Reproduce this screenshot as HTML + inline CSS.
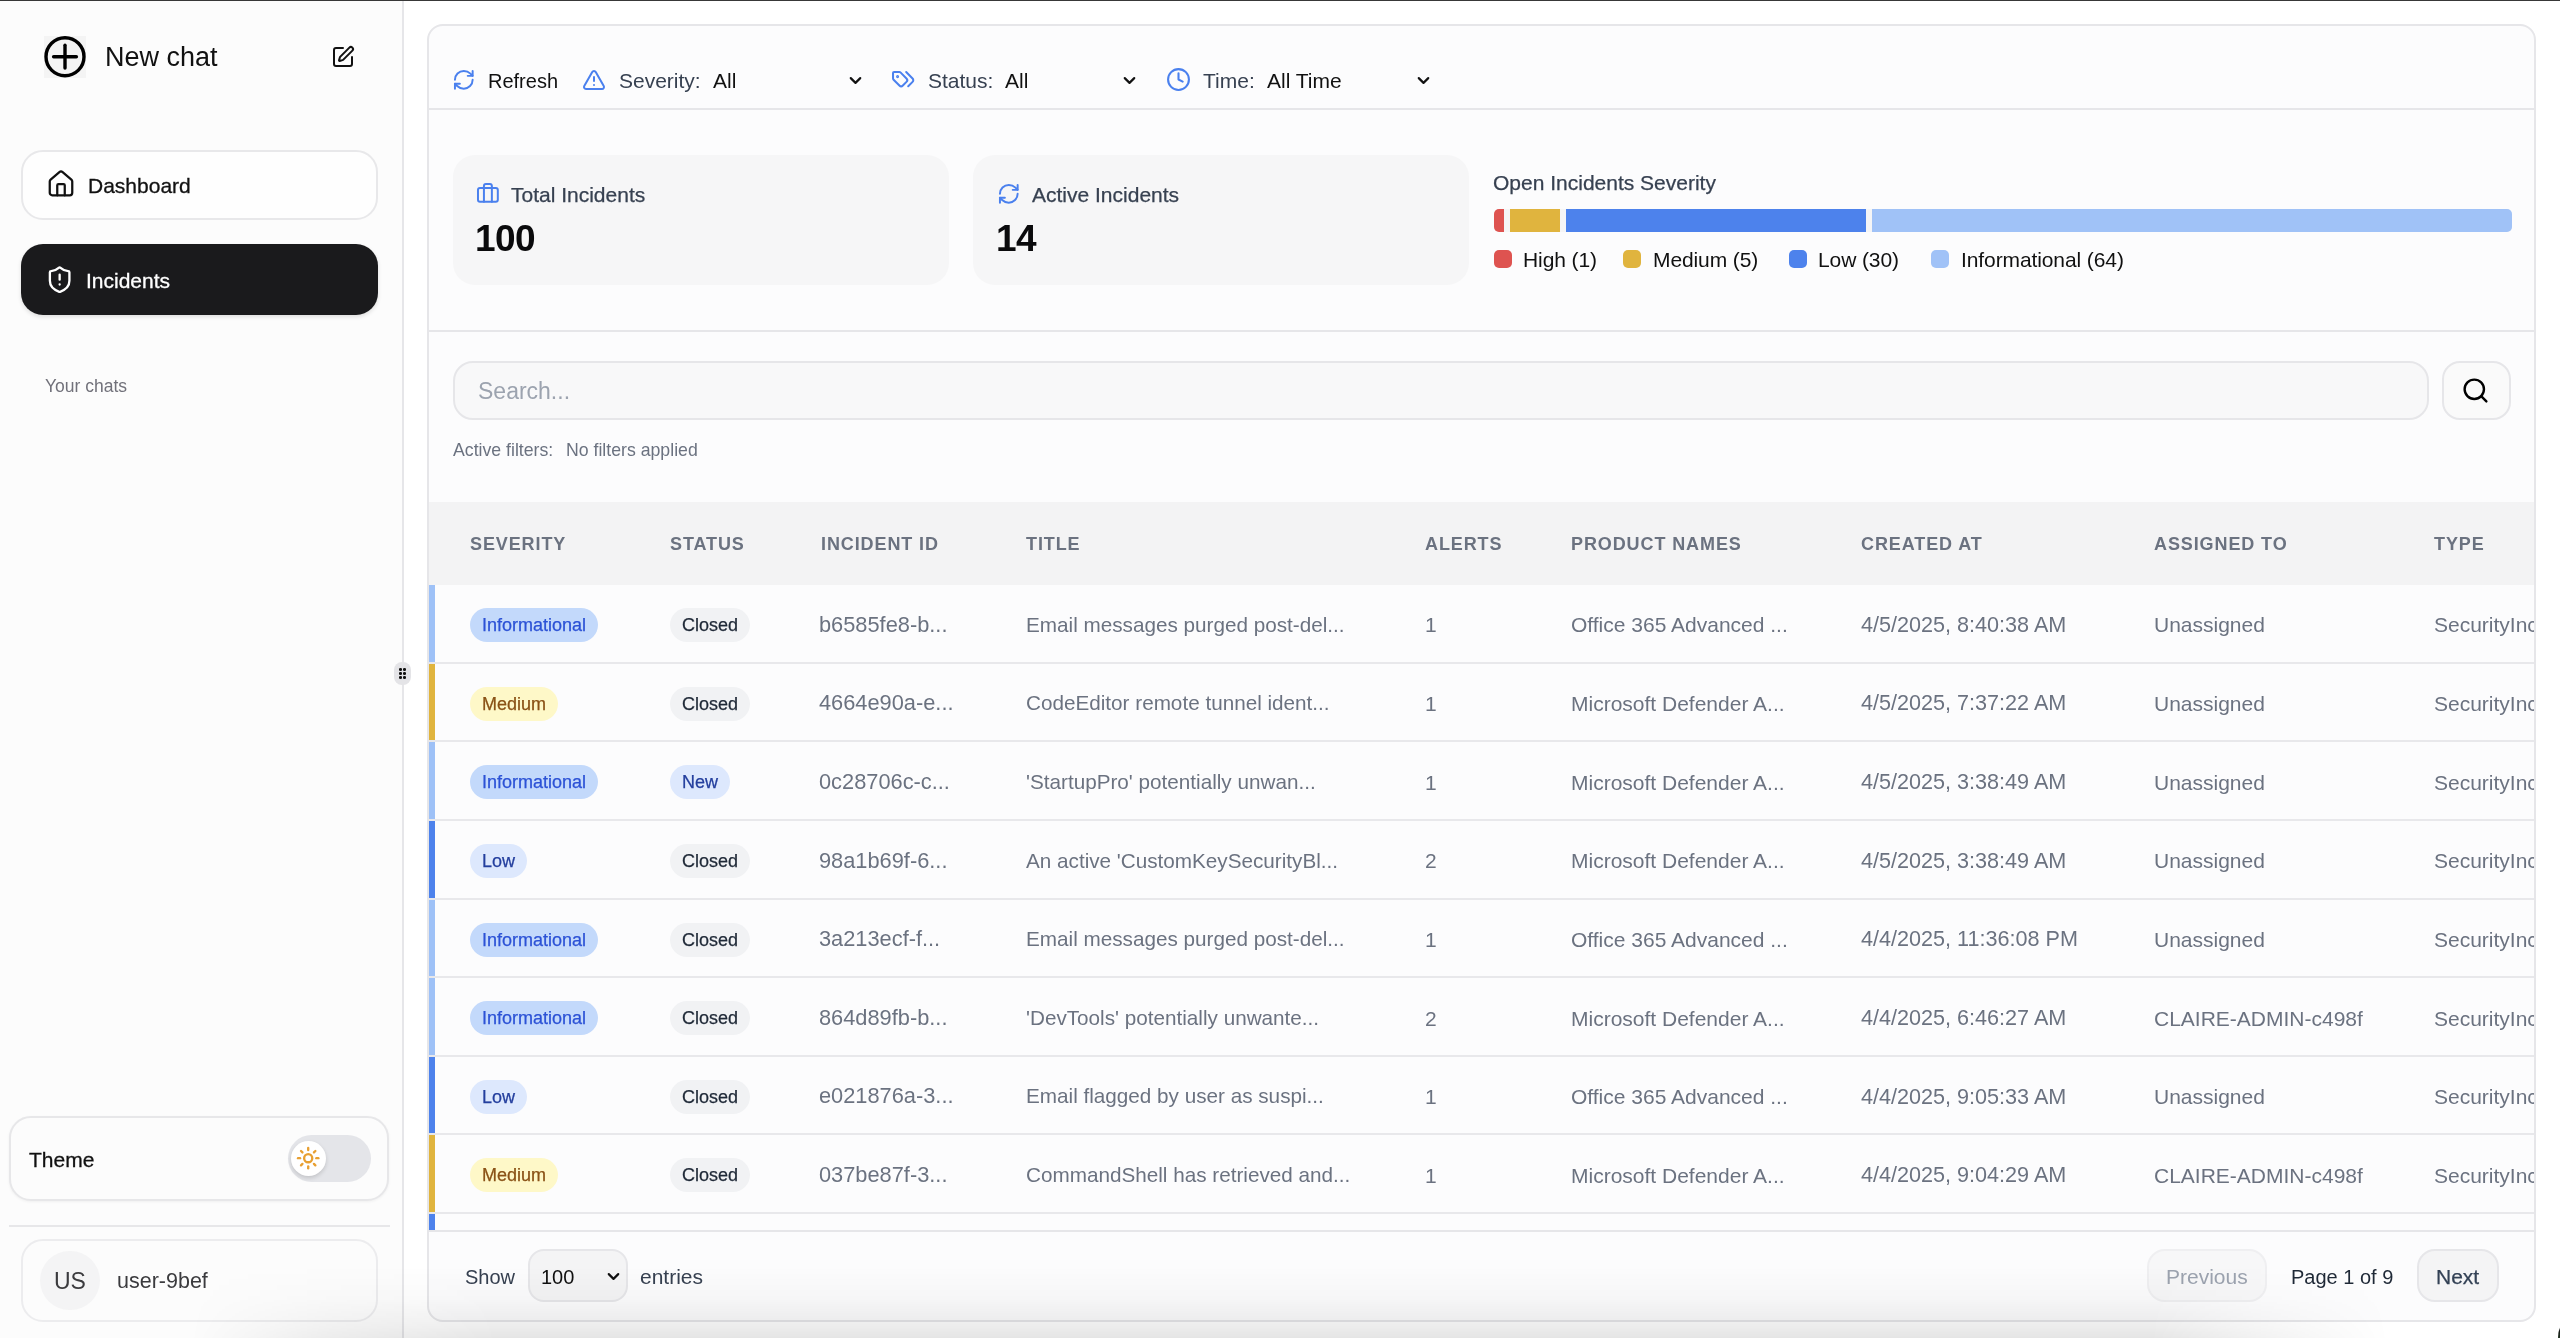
<!DOCTYPE html>
<html><head><meta charset="utf-8"><title>Incidents</title>
<style>
html,body{margin:0;padding:0;}
body{width:2560px;height:1338px;overflow:hidden;position:relative;background:#fff;font-family:"Liberation Sans", Arial, sans-serif;}
.t{position:absolute;white-space:nowrap;will-change:transform;}
.b{position:absolute;}
.ic{position:absolute;overflow:visible;}
.clip{position:absolute;overflow:hidden;}
.bd{position:absolute;will-change:transform;box-sizing:border-box;padding:0 12px;border-radius:17px;font-size:18px;line-height:34px;white-space:nowrap;-webkit-text-stroke:0.25px currentColor;}
</style></head><body>
<div class="b" style="left:0px;top:0px;width:402px;height:1338px;background:#fcfcfc"></div><div class="b" style="left:402px;top:0px;width:2px;height:1338px;background:#e6e6e9"></div><div class="b" style="left:44px;top:36px;width:42px;height:42px;background:#f4f4f4"></div><svg class="ic" style="left:44.25px;top:36.4px;width:42px;height:42px" viewBox="0 0 42 42" fill="none" stroke="#000" stroke-width="3.4" stroke-linecap="round"><circle cx="21" cy="20.7" r="19"/><path d="M9.6 20.7h22.8"/><path d="M21 9.3v22.8"/></svg><div class="t" style="left:105.0px;top:44.0px;font-size:27px;line-height:27px;color:#111;font-weight:400;">New chat</div><svg class="ic" style="left:330.9px;top:45.1px;width:24px;height:24px;color:#111" viewBox="0 0 24 24" fill="none" stroke="currentColor" stroke-width="2" stroke-linecap="round" stroke-linejoin="round"><path d="M12 3H5a2 2 0 0 0-2 2v14a2 2 0 0 0 2 2h14a2 2 0 0 0 2-2v-7"/><path d="M18.375 2.625a1 1 0 0 1 3 3l-9.013 9.014a2 2 0 0 1-.853.505l-2.873.84a.5.5 0 0 1-.62-.62l.84-2.873a2 2 0 0 1 .506-.852z"/></svg><div class="b" style="left:21px;top:149.5px;width:357px;height:70px;background:#fefefe;border:2px solid #e8e8ea;border-radius:22px;box-sizing:border-box"></div><svg class="ic" style="left:45.8px;top:169.4px;width:30px;height:30px;color:#111" viewBox="0 0 24 24" fill="none" stroke="currentColor" stroke-width="1.8" stroke-linecap="round" stroke-linejoin="round"><path d="M15 21v-8a1 1 0 0 0-1-1h-4a1 1 0 0 0-1 1v8"/><path d="M3 10a2 2 0 0 1 .709-1.528l7-5.999a2 2 0 0 1 2.582 0l7 5.999A2 2 0 0 1 21 10v9a2 2 0 0 1-2 2H5a2 2 0 0 1-2-2z"/></svg><div class="t" style="left:88.0px;top:175.2px;font-size:21px;line-height:21px;color:#111;font-weight:400;-webkit-text-stroke:0.3px #111">Dashboard</div><div class="b" style="left:21px;top:244px;width:357px;height:70.5px;background:#1a1a1c;border-radius:22px;box-shadow:0 2px 4px rgba(0,0,0,0.12)"></div><svg class="ic" style="left:44.8px;top:265.0px;width:29.3px;height:29.3px;color:#fff" viewBox="0 0 24 24" fill="none" stroke="currentColor" stroke-width="1.9" stroke-linecap="round" stroke-linejoin="round"><path d="M20 13c0 5-3.5 7.5-7.66 8.95a1 1 0 0 1-.67-.01C7.5 20.5 4 18 4 13V6a1 1 0 0 1 1-1c2 0 4.5-1.2 6.24-2.72a1.17 1.17 0 0 1 1.52 0C14.51 3.81 17 5 19 5a1 1 0 0 1 1 1z"/><path d="M12 8v4"/><path d="M12 16h.01"/></svg><div class="t" style="left:86.0px;top:270.0px;font-size:21px;line-height:21px;color:#fff;font-weight:400;-webkit-text-stroke:0.3px #fff">Incidents</div><div class="t" style="left:45.0px;top:378.2px;font-size:17.5px;line-height:17.5px;color:#71717a;font-weight:400;">Your chats</div><div class="b" style="left:9px;top:1116px;width:380px;height:85px;background:#fcfcfc;border:2px solid #e7e7e9;border-radius:22px;box-sizing:border-box;box-shadow:0 1px 3px rgba(0,0,0,0.05)"></div><div class="t" style="left:28.5px;top:1149.4px;font-size:21px;line-height:21px;color:#111;font-weight:400;-webkit-text-stroke:0.3px #111">Theme</div><div class="b" style="left:288px;top:1135px;width:83px;height:47px;background:#e4e5e9;border-radius:24px"></div><div class="b" style="left:291px;top:1141px;width:35px;height:35px;background:#fff;border-radius:50%;box-shadow:0 2px 4px rgba(0,0,0,0.15)"></div><svg class="ic" style="left:296.2px;top:1146.3px;width:24.4px;height:24.4px;color:#e8a032" viewBox="0 0 24 24" fill="none" stroke="currentColor" stroke-width="2.3" stroke-linecap="round" stroke-linejoin="round"><circle cx="12" cy="12" r="4"/><path d="M12 2v2"/><path d="M12 20v2"/><path d="m4.93 4.93 1.41 1.41"/><path d="m17.66 17.66 1.41 1.41"/><path d="M2 12h2"/><path d="M20 12h2"/><path d="m6.34 17.66-1.41 1.41"/><path d="m19.07 4.93-1.41 1.41"/></svg><div class="b" style="left:9px;top:1225px;width:381px;height:2px;background:#e7e7e9"></div><div class="b" style="left:21px;top:1239px;width:357px;height:83px;background:#fcfcfc;border:2px solid #ececee;border-radius:22px;box-sizing:border-box"></div><div class="b" style="left:40px;top:1250.5px;width:59.5px;height:59.5px;background:#f4f4f5;border-radius:50%"></div><div class="t" style="left:54.0px;top:1270.1px;font-size:23px;line-height:23px;color:#3b3b3e;font-weight:400;">US</div><div class="t" style="left:117.0px;top:1270.6px;font-size:21.5px;line-height:21.5px;color:#3b3b3e;font-weight:400;">user-9bef</div><div class="b" style="left:394px;top:662px;width:17px;height:23px;background:#e4e4e7;border-radius:8px"></div><div class="b" style="left:399.3px;top:668.1px;width:2.6px;height:2.6px;background:#111;border-radius:50%"></div><div class="b" style="left:403.3px;top:668.1px;width:2.6px;height:2.6px;background:#111;border-radius:50%"></div><div class="b" style="left:399.3px;top:672.1px;width:2.6px;height:2.6px;background:#111;border-radius:50%"></div><div class="b" style="left:403.3px;top:672.1px;width:2.6px;height:2.6px;background:#111;border-radius:50%"></div><div class="b" style="left:399.3px;top:676.1px;width:2.6px;height:2.6px;background:#111;border-radius:50%"></div><div class="b" style="left:403.3px;top:676.1px;width:2.6px;height:2.6px;background:#111;border-radius:50%"></div><div class="b" style="left:427px;top:24px;width:2109px;height:1298px;background:#fcfcfd;border:2px solid #e6e6e9;border-radius:16px;box-sizing:border-box"></div><div class="b" style="left:429px;top:108px;width:2105px;height:2px;background:#e6e6e9"></div><svg class="ic" style="left:452.2px;top:67.6px;width:23.6px;height:23.6px;color:#4a80ee" viewBox="0 0 24 24" fill="none" stroke="currentColor" stroke-width="2" stroke-linecap="round" stroke-linejoin="round"><path d="M3 12a9 9 0 0 1 9-9 9.75 9.75 0 0 1 6.74 2.74L21 8"/><path d="M21 3v5h-5"/><path d="M21 12a9 9 0 0 1-9 9 9.75 9.75 0 0 1-6.74-2.74L3 16"/><path d="M8 16H3v5"/></svg><div class="t" style="left:488.0px;top:71.0px;font-size:20px;line-height:20px;color:#111;font-weight:400;">Refresh</div><svg class="ic" style="left:582.0px;top:67.5px;width:24px;height:24px;color:#4a80ee" viewBox="0 0 24 24" fill="none" stroke="currentColor" stroke-width="2" stroke-linecap="round" stroke-linejoin="round"><path d="m21.73 18-8-14a2 2 0 0 0-3.48 0l-8 14A2 2 0 0 0 4 21h16a2 2 0 0 0 1.73-3"/><path d="M12 9v4"/><path d="M12 17h.01"/></svg><div class="t" style="left:619.0px;top:70.1px;font-size:21px;line-height:21px;color:#374151;font-weight:400;">Severity:</div><div class="t" style="left:713.0px;top:70.1px;font-size:21px;line-height:21px;color:#111;font-weight:400;">All</div><svg class="ic" style="left:845.5px;top:71.0px;width:19px;height:19px;color:#111" viewBox="0 0 24 24" fill="none" stroke="currentColor" stroke-width="2.7" stroke-linecap="round" stroke-linejoin="round"><path d="m6 9 6 6 6-6"/></svg><svg class="ic" style="left:891.3px;top:67.3px;width:24.3px;height:24.3px;color:#4a80ee" viewBox="0 0 24 24" fill="none" stroke="currentColor" stroke-width="2" stroke-linecap="round" stroke-linejoin="round"><path d="m15 5 6.3 6.3a2.4 2.4 0 0 1 0 3.4L17 19"/><path d="M9.586 5.586A2 2 0 0 0 8.172 5H3a1 1 0 0 0-1 1v5.172a2 2 0 0 0 .586 1.414L8.29 18.29a2.426 2.426 0 0 0 3.42 0l3.58-3.58a2.426 2.426 0 0 0 0-3.42z"/><circle cx="6.5" cy="9.5" r=".5" fill="currentColor"/></svg><div class="t" style="left:928.0px;top:70.1px;font-size:21px;line-height:21px;color:#374151;font-weight:400;">Status:</div><div class="t" style="left:1005.0px;top:70.1px;font-size:21px;line-height:21px;color:#111;font-weight:400;">All</div><svg class="ic" style="left:1120.0px;top:71.0px;width:19px;height:19px;color:#111" viewBox="0 0 24 24" fill="none" stroke="currentColor" stroke-width="2.7" stroke-linecap="round" stroke-linejoin="round"><path d="m6 9 6 6 6-6"/></svg><svg class="ic" style="left:1166.0px;top:66.5px;width:25px;height:25px;color:#4a80ee" viewBox="0 0 24 24" fill="none" stroke="currentColor" stroke-width="2" stroke-linecap="round" stroke-linejoin="round"><circle cx="12" cy="12" r="10"/><polyline points="12 6 12 12 16 14"/></svg><div class="t" style="left:1202.5px;top:70.1px;font-size:21px;line-height:21px;color:#374151;font-weight:400;">Time:</div><div class="t" style="left:1267.0px;top:70.1px;font-size:21px;line-height:21px;color:#111;font-weight:400;">All Time</div><svg class="ic" style="left:1414.0px;top:71.0px;width:19px;height:19px;color:#111" viewBox="0 0 24 24" fill="none" stroke="currentColor" stroke-width="2.7" stroke-linecap="round" stroke-linejoin="round"><path d="m6 9 6 6 6-6"/></svg><div class="b" style="left:453px;top:155px;width:496px;height:130px;background:#f6f6f7;border-radius:22px"></div><svg class="ic" style="left:476.1px;top:181.5px;width:23.8px;height:23.8px;color:#4a80ee" viewBox="0 0 24 24" fill="none" stroke="currentColor" stroke-width="2" stroke-linecap="round" stroke-linejoin="round"><path d="M16 20V4a2 2 0 0 0-2-2h-4a2 2 0 0 0-2 2v16"/><rect width="20" height="14" x="2" y="6" rx="2"/></svg><div class="t" style="left:511.0px;top:183.7px;font-size:21px;line-height:21px;color:#374151;font-weight:400;-webkit-text-stroke:0.25px currentColor">Total Incidents</div><div class="t" style="left:475.2px;top:220.0px;font-size:37px;line-height:37px;color:#0a0a0c;font-weight:700;letter-spacing:-0.6px">100</div><div class="b" style="left:973px;top:155px;width:496px;height:130px;background:#f6f6f7;border-radius:22px"></div><svg class="ic" style="left:996.6px;top:181.6px;width:23.6px;height:23.6px;color:#4a80ee" viewBox="0 0 24 24" fill="none" stroke="currentColor" stroke-width="2" stroke-linecap="round" stroke-linejoin="round"><path d="M3 12a9 9 0 0 1 9-9 9.75 9.75 0 0 1 6.74 2.74L21 8"/><path d="M21 3v5h-5"/><path d="M21 12a9 9 0 0 1-9 9 9.75 9.75 0 0 1-6.74-2.74L3 16"/><path d="M8 16H3v5"/></svg><div class="t" style="left:1032.0px;top:183.7px;font-size:21px;line-height:21px;color:#374151;font-weight:400;-webkit-text-stroke:0.25px currentColor">Active Incidents</div><div class="t" style="left:995.6px;top:220.0px;font-size:37px;line-height:37px;color:#0a0a0c;font-weight:700;letter-spacing:-0.6px">14</div><div class="t" style="left:1493.0px;top:171.6px;font-size:21px;line-height:21px;color:#374151;font-weight:400;-webkit-text-stroke:0.25px currentColor">Open Incidents Severity</div><div class="b" style="left:1493.5px;top:208.5px;width:1018px;height:23.5px;background:#f5f5f6;border-radius:5px"></div><div class="b" style="left:1493.5px;top:208.5px;width:10px;height:23.5px;background:#de5350;border-radius:5px 0 0 5px"></div><div class="b" style="left:1509.5px;top:208.5px;width:50px;height:23.5px;background:#e0b43e"></div><div class="b" style="left:1565.5px;top:208.5px;width:300px;height:23.5px;background:#4d82ec"></div><div class="b" style="left:1871.5px;top:208.5px;width:640px;height:23.5px;background:#a0c2f7;border-radius:0 5px 5px 0"></div><div class="b" style="left:1493.5px;top:250px;width:18px;height:18px;background:#de5350;border-radius:5px"></div><div class="t" style="left:1523.0px;top:248.8px;font-size:21px;line-height:21px;color:#111;font-weight:400;letter-spacing:-0.1px">High (1)</div><div class="b" style="left:1622.5px;top:250px;width:18px;height:18px;background:#e0b43e;border-radius:5px"></div><div class="t" style="left:1652.5px;top:248.8px;font-size:21px;line-height:21px;color:#111;font-weight:400;letter-spacing:-0.1px">Medium (5)</div><div class="b" style="left:1788.5px;top:250px;width:18px;height:18px;background:#4d82ec;border-radius:5px"></div><div class="t" style="left:1818.0px;top:248.8px;font-size:21px;line-height:21px;color:#111;font-weight:400;letter-spacing:-0.1px">Low (30)</div><div class="b" style="left:1930.5px;top:250px;width:18px;height:18px;background:#a0c2f7;border-radius:5px"></div><div class="t" style="left:1960.5px;top:248.8px;font-size:21px;line-height:21px;color:#111;font-weight:400;letter-spacing:-0.1px">Informational (64)</div><div class="b" style="left:429px;top:330px;width:2105px;height:2px;background:#e6e6e9"></div><div class="b" style="left:453px;top:361px;width:1976px;height:59px;background:#f8f8f9;border:2px solid #e6e6e9;border-radius:20px;box-sizing:border-box"></div><div class="t" style="left:478.0px;top:379.6px;font-size:23px;line-height:23px;color:#9ca3af;font-weight:400;">Search...</div><div class="b" style="left:2442px;top:361px;width:68.5px;height:59px;background:#fafafa;border:2px solid #e6e6e9;border-radius:18px;box-sizing:border-box"></div><svg class="ic" style="left:2460.5px;top:376.0px;width:29px;height:29px;color:#000" viewBox="0 0 24 24" fill="none" stroke="currentColor" stroke-width="2" stroke-linecap="round" stroke-linejoin="round"><circle cx="11" cy="11" r="8"/><path d="m21 21-4.3-4.3"/></svg><div class="t" style="left:452.5px;top:441.8px;font-size:17.7px;line-height:17.7px;color:#6b7280;font-weight:400;">Active filters:</div><div class="t" style="left:565.5px;top:441.8px;font-size:17.7px;line-height:17.7px;color:#6b7280;font-weight:400;">No filters applied</div><div class="b" style="left:429px;top:502px;width:2105px;height:83px;background:#f3f3f4"></div><div class="t" style="left:470.0px;top:535.4px;font-size:18px;line-height:18px;color:#6b7280;font-weight:700;letter-spacing:0.9px">SEVERITY</div><div class="t" style="left:669.5px;top:535.4px;font-size:18px;line-height:18px;color:#6b7280;font-weight:700;letter-spacing:0.9px">STATUS</div><div class="t" style="left:820.5px;top:535.4px;font-size:18px;line-height:18px;color:#6b7280;font-weight:700;letter-spacing:0.9px">INCIDENT ID</div><div class="t" style="left:1026.0px;top:535.4px;font-size:18px;line-height:18px;color:#6b7280;font-weight:700;letter-spacing:0.9px">TITLE</div><div class="t" style="left:1425.0px;top:535.4px;font-size:18px;line-height:18px;color:#6b7280;font-weight:700;letter-spacing:0.9px">ALERTS</div><div class="t" style="left:1571.0px;top:535.4px;font-size:18px;line-height:18px;color:#6b7280;font-weight:700;letter-spacing:0.9px">PRODUCT NAMES</div><div class="t" style="left:1861.0px;top:535.4px;font-size:18px;line-height:18px;color:#6b7280;font-weight:700;letter-spacing:0.9px">CREATED AT</div><div class="t" style="left:2154.0px;top:535.4px;font-size:18px;line-height:18px;color:#6b7280;font-weight:700;letter-spacing:0.9px">ASSIGNED TO</div><div class="t" style="left:2434.0px;top:535.4px;font-size:18px;line-height:18px;color:#6b7280;font-weight:700;letter-spacing:0.9px">TYPE</div><div class="clip" style="left:0;top:0;width:2534px;height:1229.5px"><div class="b" style="left:429px;top:585.0px;width:6px;height:76.63px;background:#9ec1f7"></div><div class="b" style="left:429px;top:661.63px;width:2105px;height:2px;background:#e8e8eb"></div><div class="bd" style="left:470px;top:608.00px;height:34px;background:#c3d9fb;color:#2c52d6">Informational</div><div class="bd" style="left:669.5px;top:608.00px;height:34px;background:#f1f2f4;color:#1f2937">Closed</div><div class="t" style="left:819.0px;top:613.6px;font-size:21.8px;line-height:21.8px;color:#6b7280;font-weight:400;">b6585fe8-b...</div><div class="t" style="left:1026.0px;top:614.6px;font-size:20.7px;line-height:20.7px;color:#6b7280;font-weight:400;">Email messages purged post-del...</div><div class="t" style="left:1425.0px;top:614.3px;font-size:21px;line-height:21px;color:#6b7280;font-weight:400;">1</div><div class="t" style="left:1571.0px;top:614.3px;font-size:21px;line-height:21px;color:#6b7280;font-weight:400;">Office 365 Advanced ...</div><div class="t" style="left:1861.0px;top:613.8px;font-size:21.6px;line-height:21.6px;color:#6b7280;font-weight:400;">4/5/2025, 8:40:38 AM</div><div class="t" style="left:2154.0px;top:614.3px;font-size:21px;line-height:21px;color:#6b7280;font-weight:400;">Unassigned</div><div class="t" style="left:2434.0px;top:614.3px;font-size:21px;line-height:21px;color:#6b7280;font-weight:400;">SecurityIncident</div><div class="b" style="left:429px;top:663.63px;width:6px;height:76.63px;background:#e0b43e"></div><div class="b" style="left:429px;top:740.26px;width:2105px;height:2px;background:#e8e8eb"></div><div class="bd" style="left:470px;top:686.63px;height:34px;background:#fef8c8;color:#8a5216">Medium</div><div class="bd" style="left:669.5px;top:686.63px;height:34px;background:#f1f2f4;color:#1f2937">Closed</div><div class="t" style="left:819.0px;top:692.3px;font-size:21.8px;line-height:21.8px;color:#6b7280;font-weight:400;">4664e90a-e...</div><div class="t" style="left:1026.0px;top:693.2px;font-size:20.7px;line-height:20.7px;color:#6b7280;font-weight:400;">CodeEditor remote tunnel ident...</div><div class="t" style="left:1425.0px;top:693.0px;font-size:21px;line-height:21px;color:#6b7280;font-weight:400;">1</div><div class="t" style="left:1571.0px;top:693.0px;font-size:21px;line-height:21px;color:#6b7280;font-weight:400;">Microsoft Defender A...</div><div class="t" style="left:1861.0px;top:692.4px;font-size:21.6px;line-height:21.6px;color:#6b7280;font-weight:400;">4/5/2025, 7:37:22 AM</div><div class="t" style="left:2154.0px;top:693.0px;font-size:21px;line-height:21px;color:#6b7280;font-weight:400;">Unassigned</div><div class="t" style="left:2434.0px;top:693.0px;font-size:21px;line-height:21px;color:#6b7280;font-weight:400;">SecurityIncident</div><div class="b" style="left:429px;top:742.26px;width:6px;height:76.63px;background:#9ec1f7"></div><div class="b" style="left:429px;top:818.89px;width:2105px;height:2px;background:#e8e8eb"></div><div class="bd" style="left:470px;top:765.26px;height:34px;background:#c3d9fb;color:#2c52d6">Informational</div><div class="bd" style="left:669.5px;top:765.26px;height:34px;background:#dde8fd;color:#243f9e">New</div><div class="t" style="left:819.0px;top:770.9px;font-size:21.8px;line-height:21.8px;color:#6b7280;font-weight:400;">0c28706c-c...</div><div class="t" style="left:1026.0px;top:771.8px;font-size:20.7px;line-height:20.7px;color:#6b7280;font-weight:400;">'StartupPro' potentially unwan...</div><div class="t" style="left:1425.0px;top:771.6px;font-size:21px;line-height:21px;color:#6b7280;font-weight:400;">1</div><div class="t" style="left:1571.0px;top:771.6px;font-size:21px;line-height:21px;color:#6b7280;font-weight:400;">Microsoft Defender A...</div><div class="t" style="left:1861.0px;top:771.1px;font-size:21.6px;line-height:21.6px;color:#6b7280;font-weight:400;">4/5/2025, 3:38:49 AM</div><div class="t" style="left:2154.0px;top:771.6px;font-size:21px;line-height:21px;color:#6b7280;font-weight:400;">Unassigned</div><div class="t" style="left:2434.0px;top:771.6px;font-size:21px;line-height:21px;color:#6b7280;font-weight:400;">SecurityIncident</div><div class="b" style="left:429px;top:820.89px;width:6px;height:76.63px;background:#4d82ec"></div><div class="b" style="left:429px;top:897.52px;width:2105px;height:2px;background:#e8e8eb"></div><div class="bd" style="left:470px;top:843.89px;height:34px;background:#dde8fd;color:#243f9e">Low</div><div class="bd" style="left:669.5px;top:843.89px;height:34px;background:#f1f2f4;color:#1f2937">Closed</div><div class="t" style="left:819.0px;top:849.5px;font-size:21.8px;line-height:21.8px;color:#6b7280;font-weight:400;">98a1b69f-6...</div><div class="t" style="left:1026.0px;top:850.5px;font-size:20.7px;line-height:20.7px;color:#6b7280;font-weight:400;">An active 'CustomKeySecurityBl...</div><div class="t" style="left:1425.0px;top:850.2px;font-size:21px;line-height:21px;color:#6b7280;font-weight:400;">2</div><div class="t" style="left:1571.0px;top:850.2px;font-size:21px;line-height:21px;color:#6b7280;font-weight:400;">Microsoft Defender A...</div><div class="t" style="left:1861.0px;top:849.7px;font-size:21.6px;line-height:21.6px;color:#6b7280;font-weight:400;">4/5/2025, 3:38:49 AM</div><div class="t" style="left:2154.0px;top:850.2px;font-size:21px;line-height:21px;color:#6b7280;font-weight:400;">Unassigned</div><div class="t" style="left:2434.0px;top:850.2px;font-size:21px;line-height:21px;color:#6b7280;font-weight:400;">SecurityIncident</div><div class="b" style="left:429px;top:899.52px;width:6px;height:76.63px;background:#9ec1f7"></div><div class="b" style="left:429px;top:976.15px;width:2105px;height:2px;background:#e8e8eb"></div><div class="bd" style="left:470px;top:922.52px;height:34px;background:#c3d9fb;color:#2c52d6">Informational</div><div class="bd" style="left:669.5px;top:922.52px;height:34px;background:#f1f2f4;color:#1f2937">Closed</div><div class="t" style="left:819.0px;top:928.2px;font-size:21.8px;line-height:21.8px;color:#6b7280;font-weight:400;">3a213ecf-f...</div><div class="t" style="left:1026.0px;top:929.1px;font-size:20.7px;line-height:20.7px;color:#6b7280;font-weight:400;">Email messages purged post-del...</div><div class="t" style="left:1425.0px;top:928.8px;font-size:21px;line-height:21px;color:#6b7280;font-weight:400;">1</div><div class="t" style="left:1571.0px;top:928.8px;font-size:21px;line-height:21px;color:#6b7280;font-weight:400;">Office 365 Advanced ...</div><div class="t" style="left:1861.0px;top:928.3px;font-size:21.6px;line-height:21.6px;color:#6b7280;font-weight:400;">4/4/2025, 11:36:08 PM</div><div class="t" style="left:2154.0px;top:928.8px;font-size:21px;line-height:21px;color:#6b7280;font-weight:400;">Unassigned</div><div class="t" style="left:2434.0px;top:928.8px;font-size:21px;line-height:21px;color:#6b7280;font-weight:400;">SecurityIncident</div><div class="b" style="left:429px;top:978.15px;width:6px;height:76.63px;background:#9ec1f7"></div><div class="b" style="left:429px;top:1054.78px;width:2105px;height:2px;background:#e8e8eb"></div><div class="bd" style="left:470px;top:1001.15px;height:34px;background:#c3d9fb;color:#2c52d6">Informational</div><div class="bd" style="left:669.5px;top:1001.15px;height:34px;background:#f1f2f4;color:#1f2937">Closed</div><div class="t" style="left:819.0px;top:1006.8px;font-size:21.8px;line-height:21.8px;color:#6b7280;font-weight:400;">864d89fb-b...</div><div class="t" style="left:1026.0px;top:1007.7px;font-size:20.7px;line-height:20.7px;color:#6b7280;font-weight:400;">'DevTools' potentially unwante...</div><div class="t" style="left:1425.0px;top:1007.5px;font-size:21px;line-height:21px;color:#6b7280;font-weight:400;">2</div><div class="t" style="left:1571.0px;top:1007.5px;font-size:21px;line-height:21px;color:#6b7280;font-weight:400;">Microsoft Defender A...</div><div class="t" style="left:1861.0px;top:1007.0px;font-size:21.6px;line-height:21.6px;color:#6b7280;font-weight:400;">4/4/2025, 6:46:27 AM</div><div class="t" style="left:2154.0px;top:1007.5px;font-size:21px;line-height:21px;color:#6b7280;font-weight:400;">CLAIRE-ADMIN-c498f</div><div class="t" style="left:2434.0px;top:1007.5px;font-size:21px;line-height:21px;color:#6b7280;font-weight:400;">SecurityIncident</div><div class="b" style="left:429px;top:1056.78px;width:6px;height:76.63px;background:#4d82ec"></div><div class="b" style="left:429px;top:1133.41px;width:2105px;height:2px;background:#e8e8eb"></div><div class="bd" style="left:470px;top:1079.78px;height:34px;background:#dde8fd;color:#243f9e">Low</div><div class="bd" style="left:669.5px;top:1079.78px;height:34px;background:#f1f2f4;color:#1f2937">Closed</div><div class="t" style="left:819.0px;top:1085.4px;font-size:21.8px;line-height:21.8px;color:#6b7280;font-weight:400;">e021876a-3...</div><div class="t" style="left:1026.0px;top:1086.4px;font-size:20.7px;line-height:20.7px;color:#6b7280;font-weight:400;">Email flagged by user as suspi...</div><div class="t" style="left:1425.0px;top:1086.1px;font-size:21px;line-height:21px;color:#6b7280;font-weight:400;">1</div><div class="t" style="left:1571.0px;top:1086.1px;font-size:21px;line-height:21px;color:#6b7280;font-weight:400;">Office 365 Advanced ...</div><div class="t" style="left:1861.0px;top:1085.6px;font-size:21.6px;line-height:21.6px;color:#6b7280;font-weight:400;">4/4/2025, 9:05:33 AM</div><div class="t" style="left:2154.0px;top:1086.1px;font-size:21px;line-height:21px;color:#6b7280;font-weight:400;">Unassigned</div><div class="t" style="left:2434.0px;top:1086.1px;font-size:21px;line-height:21px;color:#6b7280;font-weight:400;">SecurityIncident</div><div class="b" style="left:429px;top:1135.41px;width:6px;height:76.63px;background:#e0b43e"></div><div class="b" style="left:429px;top:1212.04px;width:2105px;height:2px;background:#e8e8eb"></div><div class="bd" style="left:470px;top:1158.41px;height:34px;background:#fef8c8;color:#8a5216">Medium</div><div class="bd" style="left:669.5px;top:1158.41px;height:34px;background:#f1f2f4;color:#1f2937">Closed</div><div class="t" style="left:819.0px;top:1164.1px;font-size:21.8px;line-height:21.8px;color:#6b7280;font-weight:400;">037be87f-3...</div><div class="t" style="left:1026.0px;top:1165.0px;font-size:20.7px;line-height:20.7px;color:#6b7280;font-weight:400;">CommandShell has retrieved and...</div><div class="t" style="left:1425.0px;top:1164.7px;font-size:21px;line-height:21px;color:#6b7280;font-weight:400;">1</div><div class="t" style="left:1571.0px;top:1164.7px;font-size:21px;line-height:21px;color:#6b7280;font-weight:400;">Microsoft Defender A...</div><div class="t" style="left:1861.0px;top:1164.2px;font-size:21.6px;line-height:21.6px;color:#6b7280;font-weight:400;">4/4/2025, 9:04:29 AM</div><div class="t" style="left:2154.0px;top:1164.7px;font-size:21px;line-height:21px;color:#6b7280;font-weight:400;">CLAIRE-ADMIN-c498f</div><div class="t" style="left:2434.0px;top:1164.7px;font-size:21px;line-height:21px;color:#6b7280;font-weight:400;">SecurityIncident</div><div class="b" style="left:429px;top:1214.04px;width:6px;height:16px;background:#4d82ec"></div></div><div class="b" style="left:429px;top:1229.5px;width:2105px;height:2px;background:#e6e6e9"></div><div class="t" style="left:464.5px;top:1266.6px;font-size:20px;line-height:20px;color:#374151;font-weight:400;">Show</div><div class="b" style="left:528px;top:1249px;width:99.5px;height:52.5px;background:#f4f4f5;border:2px solid #e6e6e9;border-radius:16px;box-sizing:border-box"></div><div class="t" style="left:541.0px;top:1266.6px;font-size:20px;line-height:20px;color:#111;font-weight:400;">100</div><svg class="ic" style="left:603.5px;top:1267.2px;width:19px;height:19px;color:#111" viewBox="0 0 24 24" fill="none" stroke="currentColor" stroke-width="2.7" stroke-linecap="round" stroke-linejoin="round"><path d="m6 9 6 6 6-6"/></svg><div class="t" style="left:640.0px;top:1265.7px;font-size:21px;line-height:21px;color:#374151;font-weight:400;">entries</div><div class="b" style="left:2147px;top:1249px;width:119.5px;height:52.5px;background:#f7f7f8;border:2px solid #efeff1;border-radius:18px;box-sizing:border-box"></div><div class="t" style="left:2166.0px;top:1266.2px;font-size:21px;line-height:21px;color:#9ca3af;font-weight:400;">Previous</div><div class="t" style="left:2290.5px;top:1267.1px;font-size:20px;line-height:20px;color:#1f2937;font-weight:400;">Page 1 of 9</div><div class="b" style="left:2417px;top:1249px;width:82px;height:52.5px;background:#f4f4f5;border:2px solid #e6e6e9;border-radius:18px;box-sizing:border-box"></div><div class="t" style="left:2435.5px;top:1266.2px;font-size:21px;line-height:21px;color:#334155;font-weight:400;-webkit-text-stroke:0.25px currentColor">Next</div><div class="b" style="left:0px;top:0px;width:2560px;height:1px;background:#383838"></div><div class="b" style="left:0;top:1266px;width:2560px;height:72px;background:linear-gradient(to bottom, rgba(0,0,0,0) 0%, rgba(0,0,0,0.025) 45%, rgba(0,0,0,0.065) 80%, rgba(0,0,0,0.1) 100%);-webkit-mask-image:linear-gradient(to right, transparent 190px, rgba(0,0,0,0.6) 330px, #000 500px, #000 2150px, rgba(0,0,0,0.5) 2260px, transparent 2390px);"></div><div class="b" style="left:2557.6px;top:1326px;width:4px;height:14px;background:linear-gradient(to bottom, rgba(20,20,20,0.25), #151815 35%, #1d2a1d 75%, #2f4a2f 100%);border-radius:4px 0 0 0 / 12px 0 0 0;filter:blur(0.4px)"></div>
</body></html>
